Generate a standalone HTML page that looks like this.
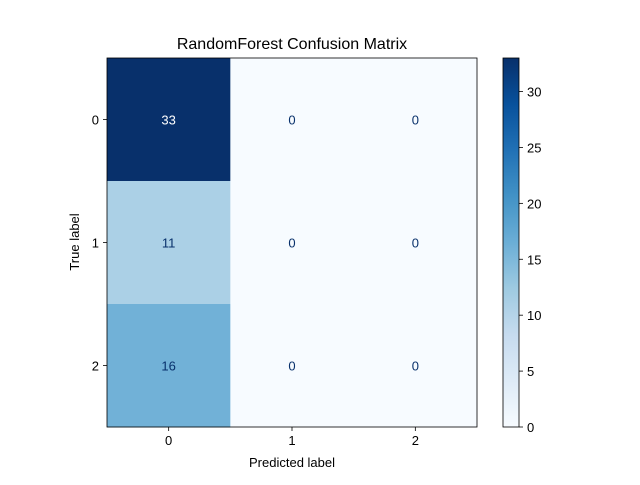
<!DOCTYPE html>
<html><head><meta charset="utf-8"><style>
body{margin:0;background:#fff;}
svg text{font-family:"Liberation Sans","DejaVu Sans",sans-serif;}
</style></head><body>
<svg id="chart" width="640" height="480" xmlns="http://www.w3.org/2000/svg">
<defs>
<linearGradient id="blues" x1="0" y1="1" x2="0" y2="0">
<stop offset="0" stop-color="#f7fbff"/><stop offset="0.125" stop-color="#deebf7"/><stop offset="0.25" stop-color="#c6dbef"/><stop offset="0.375" stop-color="#9ecae1"/><stop offset="0.5" stop-color="#6baed6"/><stop offset="0.625" stop-color="#4292c6"/><stop offset="0.75" stop-color="#2171b5"/><stop offset="0.875" stop-color="#08519c"/><stop offset="1" stop-color="#08306b"/>
</linearGradient>
</defs>
<text x="292" y="49" font-size="16" text-anchor="middle">RandomForest Confusion Matrix</text>
<g id="cells"></g>
<rect x="107" y="58" width="370" height="369" fill="none" stroke="#000" stroke-width="0.8"/>
<g id="axes"></g>
<text x="292" y="467" font-size="13" text-anchor="middle">Predicted label</text>
<text x="0" y="0" font-size="13" text-anchor="middle" transform="translate(79,242) rotate(-90)">True label</text>
<rect x="503" y="58" width="16" height="369" fill="url(#blues)" stroke="#000" stroke-width="0.8"/>
<g id="cbar"></g>
</svg>
<script>
const classes=["0","1","2"];
const row0=[33,0,0];
const row1=[11,0,0];
const row2=[16,0,0];
const cbTicks=[0,5,10,15,20,25,30];
const matrix=[row0,row1,row2];
const NS="http://www.w3.org/2000/svg";
const vmin=0,vmax=Math.max(...matrix.flat());
const X0=107,Y0=58,W=370,H=369,n=classes.length,cw=W/n,ch=H/n;
const stops=["#f7fbff","#deebf7","#c6dbef","#9ecae1","#6baed6","#4292c6","#2171b5","#08519c","#08306b"];
function hex(c){return [1,3,5].map(i=>parseInt(c.substr(i,2),16));}
function color(v){let t=(v-vmin)/(vmax-vmin||1)*(stops.length-1);let i=Math.min(Math.floor(t),stops.length-2);let f=t-i;let a=hex(stops[i]),b=hex(stops[i+1]);return "rgb("+a.map((x,k)=>Math.round(x+(b[k]-x)*f)).join(",")+")";}
function mk(tag,attrs,parent){const e=document.createElementNS(NS,tag);for(const k in attrs)e.setAttribute(k,attrs[k]);parent.appendChild(e);return e;}
const cells=document.getElementById("cells"),axes=document.getElementById("axes"),cbar=document.getElementById("cbar");
const thr=(vmax+vmin)/2;
matrix.forEach((row,r)=>row.forEach((v,c)=>{
 const rc=mk("rect",{x:X0+c*cw,y:Y0+r*ch,width:cw+0.5,height:ch+0.5,fill:color(v)},cells);
 
 
 const t=mk("text",{x:X0+(c+0.5)*cw,y:Y0+(r+0.5)*ch+5,"font-size":13,"text-anchor":"middle",fill:v>thr?"#ffffff":"#08306b"},cells);
 t.textContent=v;
 
 
}));
classes.forEach((l,i)=>{
 const x=X0+(i+0.5)*cw,y=Y0+(i+0.5)*ch;
 mk("line",{x1:x,x2:x,y1:Y0+H,y2:Y0+H+4,stroke:"#000","stroke-width":0.8},axes);
 const tx=mk("text",{x:x,y:Y0+H+18,"font-size":13,"text-anchor":"middle"},axes);tx.textContent=l;
 
 
 mk("line",{x1:X0-4,x2:X0,y1:y,y2:y,stroke:"#000","stroke-width":0.8},axes);
 const ty=mk("text",{x:X0-8,y:y+5,"font-size":13,"text-anchor":"end"},axes);ty.textContent=l;
 
 
});
cbTicks.forEach(v=>{
 const y=427-(v-vmin)/(vmax-vmin)*369;
 mk("line",{x1:519,x2:523,y1:y,y2:y,stroke:"#000","stroke-width":0.8},cbar);
 const t=mk("text",{x:527,y:y+5,"font-size":13},cbar);t.textContent=v;
 
 
});
</script>
</body></html>
